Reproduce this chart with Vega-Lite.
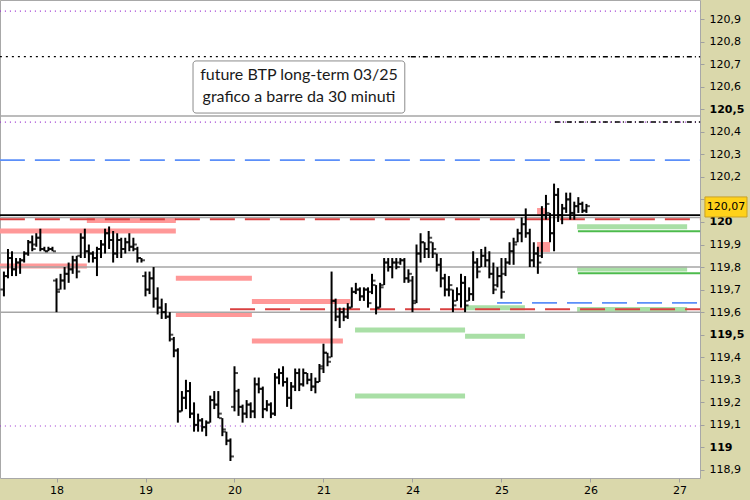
{
  "$schema": "https://vega.github.io/schema/vega-lite/v6.json",
  "width": 700,
  "height": 478,
  "autosize": {"type": "none"},
  "padding": {"left": 0, "top": 0, "right": 50, "bottom": 22},
  "background": "#DAD8AB",
  "config": {"view": {"fill": "white", "stroke": "#A8A8A8", "strokeWidth": 1}, "font": "DejaVu Sans", "axis": {"labelOverlap": false, "labelBound": false, "labelFlush": false}},
  "resolve": {"scale": {"color": "independent", "strokeDash": "independent", "strokeWidth": "independent"}},
  "datasets": {
    "bars": [
      {"i":-13,"o":119.70,"h":119.78,"l":119.67,"c":119.76},
      {"i":-12,"o":119.76,"h":119.88,"l":119.75,"c":119.84},
      {"i":-11,"o":119.84,"h":119.87,"l":119.76,"c":119.79},
      {"i":-10,"o":119.79,"h":119.84,"l":119.76,"c":119.82},
      {"i":-9,"o":119.82,"h":119.84,"l":119.77,"c":119.83},
      {"i":-8,"o":119.83,"h":119.87,"l":119.82,"c":119.86},
      {"i":-7,"o":119.86,"h":119.92,"l":119.85,"c":119.91},
      {"i":-6,"o":119.91,"h":119.94,"l":119.87,"c":119.88},
      {"i":-5,"o":119.90,"h":119.95,"l":119.89,"c":119.93},
      {"i":-4,"o":119.93,"h":119.97,"l":119.87,"c":119.88},
      {"i":-3,"o":119.88,"h":119.89,"l":119.87,"c":119.87},
      {"i":-2,"o":119.87,"h":119.89,"l":119.87,"c":119.88},
      {"i":-1,"o":119.88,"h":119.89,"l":119.87,"c":119.87},
      {"i":0,"o":119.74,"h":119.75,"l":119.60,"c":119.69},
      {"i":1,"o":119.70,"h":119.77,"l":119.70,"c":119.74},
      {"i":2,"o":119.74,"h":119.80,"l":119.70,"c":119.77},
      {"i":3,"o":119.77,"h":119.82,"l":119.73,"c":119.79},
      {"i":4,"o":119.79,"h":119.85,"l":119.77,"c":119.83},
      {"i":5,"o":119.83,"h":119.85,"l":119.75,"c":119.78},
      {"i":6,"o":119.85,"h":119.95,"l":119.84,"c":119.93},
      {"i":7,"o":119.93,"h":119.97,"l":119.84,"c":119.87},
      {"i":8,"o":119.87,"h":119.90,"l":119.82,"c":119.86},
      {"i":9,"o":119.86,"h":119.87,"l":119.82,"c":119.84},
      {"i":10,"o":119.84,"h":119.89,"l":119.76,"c":119.88},
      {"i":11,"o":119.88,"h":119.92,"l":119.84,"c":119.90},
      {"i":12,"o":119.90,"h":119.97,"l":119.86,"c":119.95},
      {"i":13,"o":119.95,"h":119.98,"l":119.88,"c":119.92},
      {"i":14,"o":119.92,"h":119.96,"l":119.82,"c":119.86},
      {"i":15,"o":119.86,"h":119.95,"l":119.84,"c":119.92},
      {"i":16,"o":119.92,"h":119.93,"l":119.84,"c":119.88},
      {"i":17,"o":119.88,"h":119.93,"l":119.86,"c":119.91},
      {"i":18,"o":119.91,"h":119.95,"l":119.87,"c":119.89},
      {"i":19,"o":119.89,"h":119.93,"l":119.87,"c":119.90},
      {"i":20,"o":119.88,"h":119.89,"l":119.82,"c":119.84},
      {"i":21,"o":119.84,"h":119.84,"l":119.82,"c":119.83},
      {"i":22,"o":119.76,"h":119.78,"l":119.67,"c":119.70},
      {"i":23,"o":119.70,"h":119.78,"l":119.68,"c":119.75},
      {"i":24,"o":119.75,"h":119.80,"l":119.62,"c":119.66},
      {"i":25,"o":119.66,"h":119.71,"l":119.59,"c":119.62},
      {"i":26,"o":119.62,"h":119.66,"l":119.57,"c":119.60},
      {"i":27,"o":119.60,"h":119.64,"l":119.57,"c":119.58},
      {"i":28,"o":119.58,"h":119.60,"l":119.47,"c":119.50},
      {"i":29,"o":119.48,"h":119.49,"l":119.40,"c":119.43},
      {"i":30,"o":119.43,"h":119.44,"l":119.11,"c":119.16},
      {"i":31,"o":119.16,"h":119.25,"l":119.16,"c":119.22},
      {"i":32,"o":119.22,"h":119.30,"l":119.17,"c":119.25},
      {"i":33,"o":119.25,"h":119.29,"l":119.13,"c":119.15},
      {"i":34,"o":119.15,"h":119.20,"l":119.07,"c":119.10},
      {"i":35,"o":119.10,"h":119.15,"l":119.07,"c":119.12},
      {"i":36,"o":119.12,"h":119.13,"l":119.07,"c":119.09},
      {"i":37,"o":119.09,"h":119.12,"l":119.05,"c":119.11},
      {"i":38,"o":119.11,"h":119.23,"l":119.11,"c":119.21},
      {"i":39,"o":119.21,"h":119.25,"l":119.17,"c":119.19},
      {"i":40,"o":119.19,"h":119.25,"l":119.13,"c":119.15},
      {"i":41,"o":119.13,"h":119.13,"l":119.05,"c":119.08},
      {"i":42,"o":119.07,"h":119.07,"l":119.01,"c":119.03},
      {"i":43,"o":119.03,"h":119.04,"l":118.94,"c":118.96},
      {"i":44,"o":119.18,"h":119.36,"l":119.16,"c":119.33},
      {"i":45,"o":119.25,"h":119.26,"l":119.14,"c":119.18},
      {"i":46,"o":119.18,"h":119.19,"l":119.11,"c":119.15},
      {"i":47,"o":119.15,"h":119.21,"l":119.13,"c":119.19},
      {"i":48,"o":119.19,"h":119.20,"l":119.13,"c":119.16},
      {"i":49,"o":119.16,"h":119.31,"l":119.13,"c":119.28},
      {"i":50,"o":119.28,"h":119.31,"l":119.24,"c":119.26},
      {"i":51,"o":119.26,"h":119.27,"l":119.13,"c":119.17},
      {"i":52,"o":119.17,"h":119.21,"l":119.16,"c":119.19},
      {"i":53,"o":119.19,"h":119.20,"l":119.13,"c":119.15},
      {"i":54,"o":119.15,"h":119.33,"l":119.14,"c":119.31},
      {"i":55,"o":119.31,"h":119.35,"l":119.28,"c":119.33},
      {"i":56,"o":119.33,"h":119.36,"l":119.27,"c":119.29},
      {"i":57,"o":119.29,"h":119.31,"l":119.18,"c":119.22},
      {"i":58,"o":119.22,"h":119.29,"l":119.17,"c":119.27},
      {"i":59,"o":119.27,"h":119.35,"l":119.25,"c":119.33},
      {"i":60,"o":119.33,"h":119.35,"l":119.25,"c":119.28},
      {"i":61,"o":119.28,"h":119.35,"l":119.27,"c":119.33},
      {"i":62,"o":119.33,"h":119.33,"l":119.28,"c":119.30},
      {"i":63,"o":119.30,"h":119.33,"l":119.25,"c":119.27},
      {"i":64,"o":119.27,"h":119.31,"l":119.24,"c":119.29},
      {"i":65,"o":119.29,"h":119.37,"l":119.29,"c":119.36},
      {"i":66,"o":119.35,"h":119.46,"l":119.33,"c":119.42},
      {"i":67,"o":119.42,"h":119.42,"l":119.36,"c":119.38},
      {"i":68,"o":119.40,"h":119.78,"l":119.40,"c":119.65},
      {"i":69,"o":119.65,"h":119.66,"l":119.56,"c":119.58},
      {"i":70,"o":119.58,"h":119.62,"l":119.53,"c":119.60},
      {"i":71,"o":119.60,"h":119.62,"l":119.56,"c":119.58},
      {"i":72,"o":119.58,"h":119.64,"l":119.57,"c":119.62},
      {"i":73,"o":119.62,"h":119.71,"l":119.62,"c":119.69},
      {"i":74,"o":119.69,"h":119.73,"l":119.68,"c":119.70},
      {"i":75,"o":119.70,"h":119.71,"l":119.65,"c":119.67},
      {"i":76,"o":119.67,"h":119.71,"l":119.65,"c":119.70},
      {"i":77,"o":119.70,"h":119.71,"l":119.62,"c":119.64},
      {"i":78,"o":119.69,"h":119.77,"l":119.68,"c":119.74},
      {"i":79,"o":119.72,"h":119.72,"l":119.59,"c":119.62},
      {"i":80,"o":119.62,"h":119.73,"l":119.62,"c":119.71},
      {"i":81,"o":119.72,"h":119.84,"l":119.72,"c":119.82},
      {"i":82,"o":119.82,"h":119.84,"l":119.78,"c":119.80},
      {"i":83,"o":119.80,"h":119.84,"l":119.75,"c":119.82},
      {"i":84,"o":119.82,"h":119.84,"l":119.79,"c":119.80},
      {"i":85,"o":119.82,"h":119.84,"l":119.81,"c":119.83},
      {"i":86,"o":119.83,"h":119.84,"l":119.73,"c":119.75},
      {"i":87,"o":119.75,"h":119.79,"l":119.73,"c":119.77},
      {"i":88,"o":119.74,"h":119.76,"l":119.60,"c":119.64},
      {"i":89,"o":119.65,"h":119.90,"l":119.64,"c":119.86},
      {"i":90,"o":119.86,"h":119.95,"l":119.82,"c":119.91},
      {"i":91,"o":119.91,"h":119.91,"l":119.84,"c":119.88},
      {"i":92,"o":119.88,"h":119.96,"l":119.84,"c":119.93},
      {"i":93,"o":119.91,"h":119.91,"l":119.84,"c":119.88},
      {"i":94,"o":119.86,"h":119.86,"l":119.78,"c":119.81},
      {"i":95,"o":119.81,"h":119.84,"l":119.71,"c":119.75},
      {"i":96,"o":119.75,"h":119.77,"l":119.67,"c":119.70},
      {"i":97,"o":119.70,"h":119.76,"l":119.67,"c":119.72},
      {"i":98,"o":119.70,"h":119.70,"l":119.60,"c":119.63},
      {"i":99,"o":119.65,"h":119.71,"l":119.65,"c":119.68},
      {"i":100,"o":119.68,"h":119.77,"l":119.62,"c":119.73},
      {"i":101,"o":119.73,"h":119.76,"l":119.60,"c":119.63},
      {"i":102,"o":119.65,"h":119.71,"l":119.65,"c":119.68},
      {"i":103,"o":119.68,"h":119.87,"l":119.65,"c":119.82},
      {"i":104,"o":119.82,"h":119.84,"l":119.75,"c":119.78},
      {"i":105,"o":119.80,"h":119.88,"l":119.80,"c":119.85},
      {"i":106,"o":119.85,"h":119.89,"l":119.80,"c":119.83},
      {"i":107,"o":119.83,"h":119.87,"l":119.75,"c":119.77},
      {"i":108,"o":119.77,"h":119.82,"l":119.68,"c":119.70},
      {"i":109,"o":119.72,"h":119.80,"l":119.71,"c":119.76},
      {"i":110,"o":119.76,"h":119.84,"l":119.66,"c":119.69},
      {"i":111,"o":119.77,"h":119.84,"l":119.76,"c":119.82},
      {"i":112,"o":119.82,"h":119.91,"l":119.81,"c":119.87},
      {"i":113,"o":119.87,"h":119.93,"l":119.81,"c":119.90},
      {"i":114,"o":119.91,"h":119.97,"l":119.91,"c":119.95},
      {"i":115,"o":119.95,"h":120.02,"l":119.91,"c":119.99},
      {"i":116,"o":119.99,"h":120.06,"l":119.93,"c":119.95},
      {"i":117,"o":119.95,"h":119.97,"l":119.80,"c":119.83},
      {"i":118,"o":119.83,"h":119.91,"l":119.80,"c":119.86},
      {"i":119,"o":119.86,"h":119.89,"l":119.77,"c":119.82},
      {"i":120,"o":119.85,"h":120.07,"l":119.84,"c":120.03},
      {"i":121,"o":120.03,"h":120.12,"l":120.01,"c":120.08},
      {"i":122,"o":120.04,"h":120.04,"l":119.91,"c":119.95},
      {"i":123,"o":119.95,"h":120.17,"l":119.87,"c":120.12},
      {"i":124,"o":120.12,"h":120.15,"l":120.00,"c":120.03},
      {"i":125,"o":120.03,"h":120.08,"l":119.99,"c":120.06},
      {"i":126,"o":120.06,"h":120.13,"l":120.04,"c":120.10},
      {"i":127,"o":120.10,"h":120.13,"l":120.01,"c":120.04},
      {"i":128,"o":120.04,"h":120.09,"l":120.01,"c":120.07},
      {"i":129,"o":120.07,"h":120.11,"l":120.04,"c":120.08},
      {"i":130,"o":120.08,"h":120.09,"l":120.04,"c":120.05},
      {"i":131,"o":120.05,"h":120.08,"l":120.04,"c":120.07}
    ],
    "levels": [
      {"v":120.935,"x1":-14,"x2":159.1,"s":"purple"},
      {"v":120.443,"x1":-14,"x2":159.1,"s":"purple"},
      {"v":119.095,"x1":-14,"x2":159.1,"s":"purple"},
      {"v":120.733,"x1":-14,"x2":87.6,"s":"blackdot"},
      {"v":120.733,"x1":87.6,"x2":159.1,"s":"blackdash"},
      {"v":120.443,"x1":123.2,"x2":159.1,"s":"blackdash"},
      {"v":120.47,"x1":-14,"x2":159.1,"s":"gray"},
      {"v":120.02,"x1":-14,"x2":159.1,"s":"gray"},
      {"v":119.862,"x1":-14,"x2":159.1,"s":"gray"},
      {"v":119.80,"x1":-14,"x2":159.1,"s":"gray"},
      {"v":119.60,"x1":-14,"x2":159.1,"s":"gray"},
      {"v":120.03,"x1":-14,"x2":159.1,"s":"black"},
      {"v":120.274,"x1":-14,"x2":159.1,"s":"blue"},
      {"v":119.641,"x1":108.9,"x2":159.1,"s":"blue"},
      {"v":120.012,"x1":-14,"x2":159.1,"s":"red"},
      {"v":119.613,"x1":42.9,"x2":159.1,"s":"red"},
      {"v":119.959,"x1":128.9,"x2":159.1,"s":"green"},
      {"v":119.772,"x1":128.9,"x2":159.1,"s":"green"}
    ],
    "zones": [
      {"v":120.006,"x1":7.5,"x2":29.5,"s":"pink"},
      {"v":119.96,"x1":-14,"x2":29.5,"s":"pink"},
      {"v":119.805,"x1":-14,"x2":7.5,"s":"pink"},
      {"v":119.75,"x1":29.5,"x2":48.3,"s":"pink"},
      {"v":119.59,"x1":29.5,"x2":48.3,"s":"pink"},
      {"v":119.647,"x1":48.3,"x2":72.6,"s":"pink"},
      {"v":119.472,"x1":48.3,"x2":70.8,"s":"pink"},
      {"v":119.521,"x1":73.8,"x2":101,"s":"green"},
      {"v":119.228,"x1":73.8,"x2":101,"s":"green"},
      {"v":119.493,"x1":101,"x2":115.8,"s":"green"},
      {"v":119.62,"x1":101,"x2":115.8,"s":"green"},
      {"v":119.979,"x1":128.7,"x2":155.9,"s":"green"},
      {"v":119.791,"x1":128.7,"x2":155.9,"s":"green"},
      {"v":119.612,"x1":128.7,"x2":155.9,"s":"green"}
    ],
    "boxes": [
      {"y1":120.031,"y2":120.062,"x1":118.8,"x2":120.8},
      {"y1":119.867,"y2":119.911,"x1":118.8,"x2":122}
    ]
  },
  "layer": [
    {
      "data": {"name": "zones"},
      "mark": {"type": "rule", "strokeWidth": 5, "strokeCap": "butt"},
      "encoding": {
        "x": {"field": "x1", "type": "quantitative", "scale": {"domain": [-13.97, 159.08], "nice": false, "zero": false},
          "axis": {"values": [0,22,44,66,88,110,132,154], "tickCount": 20, "labelExpr": "['18','19','20','21','24','25','26','27'][round(datum.value/22)]", "title": null, "grid": false, "domain": false, "tickColor": "#A0A0A0", "tickSize": 4, "labelFontSize": 11, "labelColor": "#000000", "labelPadding": 2, "labelFont": "DejaVu Sans", "labelOverlap": false}},
        "x2": {"field": "x2"},
        "y": {"field": "v", "type": "quantitative", "scale": {"domain": [118.8645, 120.9843], "nice": false, "zero": false},
          "axis": {"orient": "right", "values": [118.9,119,119.1,119.2,119.3,119.4,119.5,119.6,119.7,119.8,119.9,120,120.1,120.2,120.3,120.4,120.5,120.6,120.7,120.8,120.9], "tickCount": 40, "labelExpr": "abs(datum.value - 120.1) < 0.01 ? '' : replace(format(datum.value, '.1~f'), '.', ',')", "labelFontWeight": {"condition": {"test": "abs(round(datum.value*10)) % 5 == 0", "value": "bold"}, "value": "normal"}, "title": null, "grid": false, "domain": false, "tickColor": "#A0A0A0", "tickSize": 4, "labelFontSize": 11, "labelColor": "#000000", "labelPadding": 5, "labelFont": "DejaVu Sans", "labelOverlap": false, "labelBound": false}},
        "color": {"field": "s", "type": "nominal", "scale": {"domain": ["pink", "green"], "range": ["#FF9898", "#A9DFA6"]}, "legend": null}
      }
    },
    {
      "data": {"name": "boxes"},
      "mark": {"type": "rect", "color": "#FF9898"},
      "encoding": {
        "x": {"field": "x1", "type": "quantitative", "scale": {"domain": [-13.97, 159.08], "nice": false, "zero": false}},
        "x2": {"field": "x2"},
        "y": {"field": "y1", "type": "quantitative", "scale": {"domain": [118.8645, 120.9843], "nice": false, "zero": false}},
        "y2": {"field": "y2"}
      }
    },
    {
      "data": {"name": "levels"},
      "mark": {"type": "rule", "strokeCap": "butt"},
      "encoding": {
        "x": {"field": "x1", "type": "quantitative", "scale": {"domain": [-13.97, 159.08], "nice": false, "zero": false}},
        "x2": {"field": "x2"},
        "y": {"field": "v", "type": "quantitative", "scale": {"domain": [118.8645, 120.9843], "nice": false, "zero": false}},
        "color": {"field": "s", "type": "nominal", "scale": {"domain": ["purple","blackdot","blackdash","gray","black","blue","red","green"], "range": ["#9A30D0","#000000","#000000","#A6A6A6","#000000","#5B8FF9","#D94040","#4CBB4C"]}, "legend": null},
        "strokeDash": {"field": "s", "type": "nominal", "scale": {"domain": ["purple","blackdot","blackdash","gray","black","blue","red","green"], "range": [[1,4],[2,4],[5,3,1,3],[1,0],[1,0],[25,10],[25,10],[1,0]]}, "legend": null},
        "strokeWidth": {"field": "s", "type": "nominal", "scale": {"domain": ["purple","blackdot","blackdash","gray","black","blue","red","green"], "range": [1.2,2,1.5,1,1,1.5,1.5,2]}, "legend": null}
      }
    },
    {
      "data": {"name": "bars"},
      "mark": {"type": "rule", "color": "#000000", "strokeWidth": 2},
      "encoding": {
        "x": {"field": "i", "type": "quantitative", "scale": {"domain": [-13.97, 159.08], "nice": false, "zero": false}},
        "y": {"field": "l", "type": "quantitative", "scale": {"domain": [118.8645, 120.9843], "nice": false, "zero": false}},
        "y2": {"field": "h"}
      }
    },
    {
      "data": {"name": "bars"},
      "mark": {"type": "tick", "orient": "horizontal", "color": "#000000", "size": 3, "thickness": 2, "xOffset": -2},
      "encoding": {
        "x": {"field": "i", "type": "quantitative", "scale": {"domain": [-13.97, 159.08], "nice": false, "zero": false}},
        "y": {"field": "o", "type": "quantitative", "scale": {"domain": [118.8645, 120.9843], "nice": false, "zero": false}}
      }
    },
    {
      "data": {"name": "bars"},
      "mark": {"type": "tick", "orient": "horizontal", "color": "#000000", "size": 3, "thickness": 2, "xOffset": 2},
      "encoding": {
        "x": {"field": "i", "type": "quantitative", "scale": {"domain": [-13.97, 159.08], "nice": false, "zero": false}},
        "y": {"field": "c", "type": "quantitative", "scale": {"domain": [118.8645, 120.9843], "nice": false, "zero": false}}
      }
    },
    {
      "data": {"values": [{}]},
      "mark": {"type": "rect", "fill": "white", "stroke": "#8C8C8C", "strokeWidth": 1, "cornerRadius": 3},
      "encoding": {
        "x": {"datum": 33.75, "type": "quantitative", "scale": {"domain": [-13.97, 159.08], "nice": false, "zero": false}},
        "x2": {"datum": 86.1},
        "y": {"datum": 120.483, "type": "quantitative", "scale": {"domain": [118.8645, 120.9843], "nice": false, "zero": false}},
        "y2": {"datum": 120.714}
      }
    },
    {
      "data": {"values": [{}]},
      "mark": {"type": "text", "font": "Lato", "fontSize": 16, "color": "#1A1A1A", "align": "center", "baseline": "middle", "lineHeight": 22, "text": ["future BTP long-term 03/25", "grafico a barre da 30 minuti"]},
      "encoding": {
        "x": {"datum": 59.95, "type": "quantitative", "scale": {"domain": [-13.97, 159.08], "nice": false, "zero": false}},
        "y": {"datum": 120.652, "type": "quantitative", "scale": {"domain": [118.8645, 120.9843], "nice": false, "zero": false}}
      }
    },
    {
      "data": {"values": [{}]},
      "mark": {"type": "rect", "fill": "#FFD21A", "stroke": "#C9A227", "strokeWidth": 1},
      "encoding": {
        "x": {"datum": 160.3, "type": "quantitative", "scale": {"domain": [-13.97, 159.08], "nice": false, "zero": false}},
        "x2": {"datum": 170.7},
        "y": {"datum": 120.022, "type": "quantitative", "scale": {"domain": [118.8645, 120.9843], "nice": false, "zero": false}},
        "y2": {"datum": 120.111}
      }
    },
    {
      "data": {"values": [{}]},
      "mark": {"type": "text", "font": "DejaVu Sans", "fontSize": 11, "color": "#000000", "align": "center", "baseline": "middle", "text": "120,07"},
      "encoding": {
        "x": {"datum": 165.5, "type": "quantitative", "scale": {"domain": [-13.97, 159.08], "nice": false, "zero": false}},
        "y": {"datum": 120.066, "type": "quantitative", "scale": {"domain": [118.8645, 120.9843], "nice": false, "zero": false}}
      }
    }
  ]
}
